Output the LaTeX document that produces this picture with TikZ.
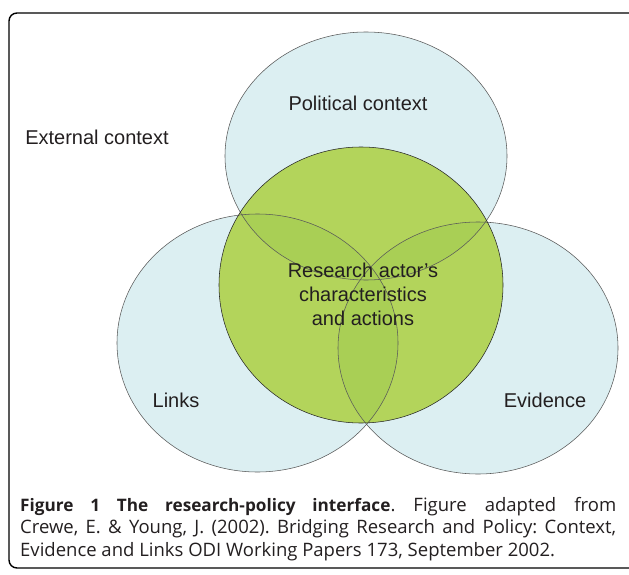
\documentclass[tikz,border=0pt]{standalone}
\usepackage{fontspec}
\setmainfont{Liberation Sans}
\newfontfamily\capfont{Open Sans}
\usetikzlibrary{positioning}

\definecolor{ctxblue}{HTML}{DCEFF2}
\definecolor{actgreen}{HTML}{B3D45B}
\definecolor{lensgreen}{HTML}{A9CF55}
\definecolor{inktext}{HTML}{231F20}

\begin{document}
\begin{tikzpicture}[
    x=1pt, y=-1pt,
    ring/.style={
        draw=black!65,
        line width=0.55pt
    },
    label_text/.style={
        font=\fontsize{20}{24}\selectfont,
        text=inktext,
        align=center,
        inner sep=0pt
    },
    caption_text/.style={
        font=\capfont\fontsize{18.5}{22.6}\selectfont\frenchspacing,
        text=inktext,
        text width=596pt,
        align=justify,
        inner sep=0pt,
        anchor=north west
    }
]
    \useasboundingbox (0,0) rectangle (629,575);

    % Frame
    \draw[line width=1.4pt, rounded corners=8pt] (9,13) rectangle (637,568);

    % Context circles
    \fill[ctxblue] (366,156) ellipse [x radius=141, y radius=124];
    \fill[ctxblue] (257.5,343) ellipse [x radius=140.5, y radius=129];
    \fill[ctxblue] (478,348) ellipse [x radius=140, y radius=126];

    % Research actor circle
    \fill[actgreen] (361,285) ellipse [x radius=142, y radius=138];

    % Overlaps of the contexts
    \begin{scope}
        \clip (361,285) ellipse [x radius=142, y radius=138];
        \begin{scope}
            \clip (366,156) ellipse [x radius=141, y radius=124];
            \fill[lensgreen] (257.5,343) ellipse [x radius=140.5, y radius=129];
            \fill[lensgreen] (478,348) ellipse [x radius=140, y radius=126];
        \end{scope}
        \clip (257.5,343) ellipse [x radius=140.5, y radius=129];
        \fill[lensgreen] (478,348) ellipse [x radius=140, y radius=126];
    \end{scope}

    % Outlines
    \draw[ring] (366,156) ellipse [x radius=141, y radius=124];
    \draw[ring] (257.5,343) ellipse [x radius=140.5, y radius=129];
    \draw[ring] (478,348) ellipse [x radius=140, y radius=126];
    \draw[ring, draw=black!85] (361,285) ellipse [x radius=142, y radius=138];

    % Labels
    \node[label_text] (ext) at (97,137) {External context};
    \node[label_text] (pol) at (358,103) {Political context};
    \node[label_text] (links) at (176,400) {Links};
    \node[label_text] (evid) at (545,400) {Evidence};
    \node[label_text] (actor) at (363,294) {Research actor’s\\characteristics\\and actions};

    % Caption
    \node[caption_text] (cap) at (20,497) {{\fontsize{17.2}{22.6}\selectfont\bfseries Figure 1 The research-policy interface}. Figure adapted from\linebreak
        Crewe, E. \& Young, J. (2002). Bridging Research and Policy: Context,\linebreak
        Evidence and Links ODI Working Papers 173, September 2002.};

\end{tikzpicture}
\end{document}
